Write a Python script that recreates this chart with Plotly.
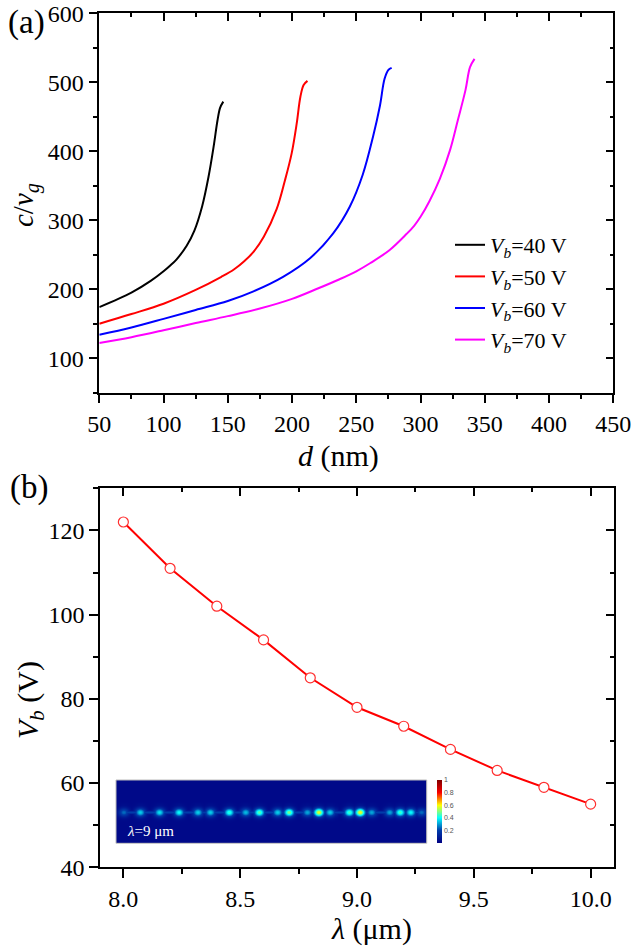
import numpy as np
import plotly.graph_objects as go

W, H = 635, 950
FONT = "Liberation Serif, Times New Roman, serif"

# ---------------- Panel (a): c/v_g versus d ----------------
d_40 = [50, 75, 90, 100, 105, 110, 118, 124, 130, 135, 139, 142, 144, 146.5]
c_40 = [174, 195, 212, 226, 234, 243, 263, 285, 320, 363, 407, 445, 463, 472]

d_50 = [50, 75, 100, 125, 145, 155, 163, 170, 178, 188, 194.5, 199.7, 203.6, 206.5, 209, 212]
c_50 = [150, 164, 179, 199, 218, 229, 241, 254, 276, 316, 358, 397, 440, 479, 496, 502]

d_60 = [50, 75, 100, 125, 150, 170, 193, 214, 232, 245, 255, 263, 268.4, 272, 275, 277.5]
c_60 = [134, 144.5, 157, 170, 183, 197, 218, 245, 281, 320, 366, 421, 466, 505, 518, 521]

d_70 = [50, 75, 100, 125, 150, 175, 200, 220, 237, 250, 261, 276, 289, 295, 300, 307, 315, 323, 329, 335, 338.5, 342]
c_70 = [122, 130.5, 140.5, 151, 161, 172, 186, 201, 214.5, 226, 238, 257, 280, 292, 305, 328, 360, 402, 445, 489, 522, 534]

series_names = ["<i>V</i><sub><i>b</i></sub>=40 V", "<i>V</i><sub><i>b</i></sub>=50 V",
                "<i>V</i><sub><i>b</i></sub>=60 V", "<i>V</i><sub><i>b</i></sub>=70 V"]
series_colors = ["#000000", "#ff0000", "#0000ff", "#ff00ff"]

# ---------------- Panel (b): V_b versus lambda ----------------
lam = [8.0, 8.2, 8.4, 8.6, 8.8, 9.0, 9.2, 9.4, 9.6, 9.8, 10.0]
vb = [122, 111, 102, 94, 85, 78, 73.5, 68, 63, 59, 55]

# ---------------- Inset field map (lambda = 9 um) ----------------
spot_pos = [0.024, 0.077, 0.139, 0.202, 0.263, 0.303, 0.364, 0.417, 0.461, 0.520, 0.557,
            0.616, 0.653, 0.689, 0.748, 0.783, 0.820, 0.878, 0.912, 0.946, 0.981]
spot_int = [0.22, 0.32, 0.34, 0.37, 0.32, 0.32, 0.40, 0.30, 0.44, 0.32, 0.47,
            0.28, 0.55, 0.32, 0.42, 0.56, 0.28, 0.28, 0.42, 0.37, 0.22]
guide_int = 0.17
bg_int = 0.03

def px(x):
    return x / W

def py(y):
    return 1 - y / H

fig = go.Figure()

for dx, cy, nm, col in zip([d_40, d_50, d_60, d_70], [c_40, c_50, c_60, c_70], series_names, series_colors):
    fig.add_trace(go.Scatter(x=dx, y=cy, mode="lines", name=nm,
                             line=dict(color=col, width=2, shape="spline", smoothing=1.0),
                             xaxis="x", yaxis="y"))

fig.add_trace(go.Scatter(x=lam, y=vb, mode="lines+markers", showlegend=False,
                         line=dict(color="#ff0000", width=2),
                         marker=dict(symbol="circle", size=10, color="white",
                                     line=dict(color="#ff3030", width=1.2)),
                         xaxis="x3", yaxis="y3"))

# empty traces so that the mirror (inward-tick) axes are drawn
fig.add_trace(go.Scatter(x=[], y=[], xaxis="x2", yaxis="y2", showlegend=False, hoverinfo="skip"))
fig.add_trace(go.Scatter(x=[], y=[], xaxis="x4", yaxis="y4", showlegend=False, hoverinfo="skip"))

# inset heatmap: background, faint guided line and the bright spots (peak values kept)
gx = np.linspace(0, 1, 311)
gy = np.linspace(-1, 1, 63)
XX, YY = np.meshgrid(gx, gy)
Z = np.full_like(XX, bg_int)
Z = np.maximum(Z, bg_int + guide_int * np.exp(-(YY / 0.05) ** 2) * ((XX > 0.015) & (XX < 0.99)))
for p, a in zip(spot_pos, spot_int):
    Z = np.maximum(Z, bg_int + a * np.exp(-((XX - p) / 0.017) ** 2 - (YY / 0.14) ** 2))
Z = np.clip(Z, 0, 1)

fig.add_trace(go.Heatmap(x=gx, y=gy, z=Z, colorscale="Jet", zmin=0, zmax=1,
                         xaxis="x5", yaxis="y5", showscale=True, zsmooth="best", hoverinfo="skip",
                         colorbar=dict(x=px(436.5), xanchor="left", xpad=0, ypad=0,
                                       y=py(811.5), yanchor="middle",
                                       len=63 / H, lenmode="fraction", thickness=5,
                                       outlinewidth=0, ticks="",
                                       tickvals=[0.2, 0.4, 0.6, 0.8, 1.0],
                                       ticktext=["0.2", "0.4", "0.6", "0.8", "1"],
                                       tickfont=dict(family="Arial", size=7, color="#555555"))))

tickfont = dict(family=FONT, size=24, color="black")

def main_axis(domain, rng, dtick, tick0, mdtick, anchor, **kw):
    return dict(domain=domain, range=rng, anchor=anchor, dtick=dtick, tick0=tick0, automargin=False,
                ticks="outside", ticklen=9, tickwidth=1.5, tickcolor="black",
                minor=dict(dtick=mdtick, tick0=tick0, ticks="outside", ticklen=5, tickwidth=1.5, tickcolor="black"),
                showline=True, linewidth=1.5, linecolor="black", showgrid=False, zeroline=False,
                tickfont=tickfont, **kw)

def mirror_axis(rng, dtick, tick0, mdtick, anchor, overlaying, side):
    return dict(range=rng, anchor=anchor, overlaying=overlaying, side=side, dtick=dtick, tick0=tick0,
                automargin=False,
                ticks="inside", ticklen=8, tickwidth=1.5, tickcolor="black",
                minor=dict(dtick=mdtick, tick0=tick0, ticks="inside", ticklen=4, tickwidth=1.5, tickcolor="black"),
                showline=True, linewidth=1.5, linecolor="black", showgrid=False, zeroline=False,
                showticklabels=False)

xa_dom = [px(99.3), px(613.3)]
ya_dom = [py(392.7), py(13.3)]
xb_dom = [px(100), px(614)]
yb_dom = [py(867.3), py(488.3)]

fig.update_layout(
    template="none",
    width=W, height=H, autosize=False,
    margin=dict(l=0, r=0, t=0, b=0, pad=0),
    paper_bgcolor="white", plot_bgcolor="white",
    font=dict(family=FONT, color="black"),
    xaxis=main_axis(xa_dom, [50, 450], 50, 0, 25, "y"),
    yaxis=main_axis(ya_dom, [50, 600], 100, 0, 50, "x"),
    xaxis2=mirror_axis([50, 450], 50, 0, 25, "y2", "x", "top"),
    yaxis2=mirror_axis([50, 600], 100, 0, 50, "x2", "y", "right"),
    xaxis3=main_axis(xb_dom, [7.9, 10.1], 0.5, 0, 0.25, "y3", tickformat=".1f"),
    yaxis3=main_axis(yb_dom, [40, 130], 20, 0, 10, "x3"),
    xaxis4=mirror_axis([7.9, 10.1], 0.5, 0, 0.25, "y4", "x3", "top"),
    yaxis4=mirror_axis([40, 130], 20, 0, 10, "x4", "y3", "right"),
    xaxis5=dict(domain=[px(116), px(426.7)], range=[0, 1], anchor="y5", visible=False, automargin=False),
    yaxis5=dict(domain=[py(843.3), py(780)], range=[-1, 1], anchor="x5", visible=False, automargin=False),
    legend=dict(x=px(450), y=py(224), xanchor="left", yanchor="top",
                bgcolor="rgba(0,0,0,0)", borderwidth=0,
                font=dict(family=FONT, size=22, color="black"),
                itemwidth=30, tracegroupgap=0),
    showlegend=True,
)

fig.add_shape(type="rect", xref="x5 domain", yref="y5 domain", x0=0, x1=1, y0=0, y1=1,
              line=dict(color="#bbbbbb", width=1))

annos = [
    dict(text="(a)", x=px(26), y=py(22), size=33, angle=0),
    dict(text="(b)", x=px(29), y=py(487), size=33, angle=0),
    dict(text="<i>c</i>/<i>v</i><sub><i>g</i></sub>", x=px(25), y=py(205), size=29, angle=-90),
    dict(text="<i>d</i> (nm)", x=px(338), y=py(456), size=30, angle=0),
    dict(text="<i>V</i><sub><i>b</i></sub> (V)", x=px(30), y=py(700), size=30, angle=-90),
    dict(text="<i>λ</i> (μm)", x=px(371), y=py(929), size=30, angle=0),
]
for a in annos:
    fig.add_annotation(text=a["text"], x=a["x"], y=a["y"], xref="paper", yref="paper",
                       xanchor="center", yanchor="middle", showarrow=False, textangle=a["angle"],
                       font=dict(family=FONT, size=a["size"], color="black"))

fig.add_annotation(text="<i>λ</i>=9 μm", x=px(125), y=py(831), xref="paper", yref="paper",
                   xanchor="left", yanchor="middle", showarrow=False,
                   font=dict(family=FONT, size=15, color="white"))

fig.write_html("out.html", config={"displayModeBar": False},
               post_script="document.body.style.margin='0px';document.body.style.padding='0px';")
